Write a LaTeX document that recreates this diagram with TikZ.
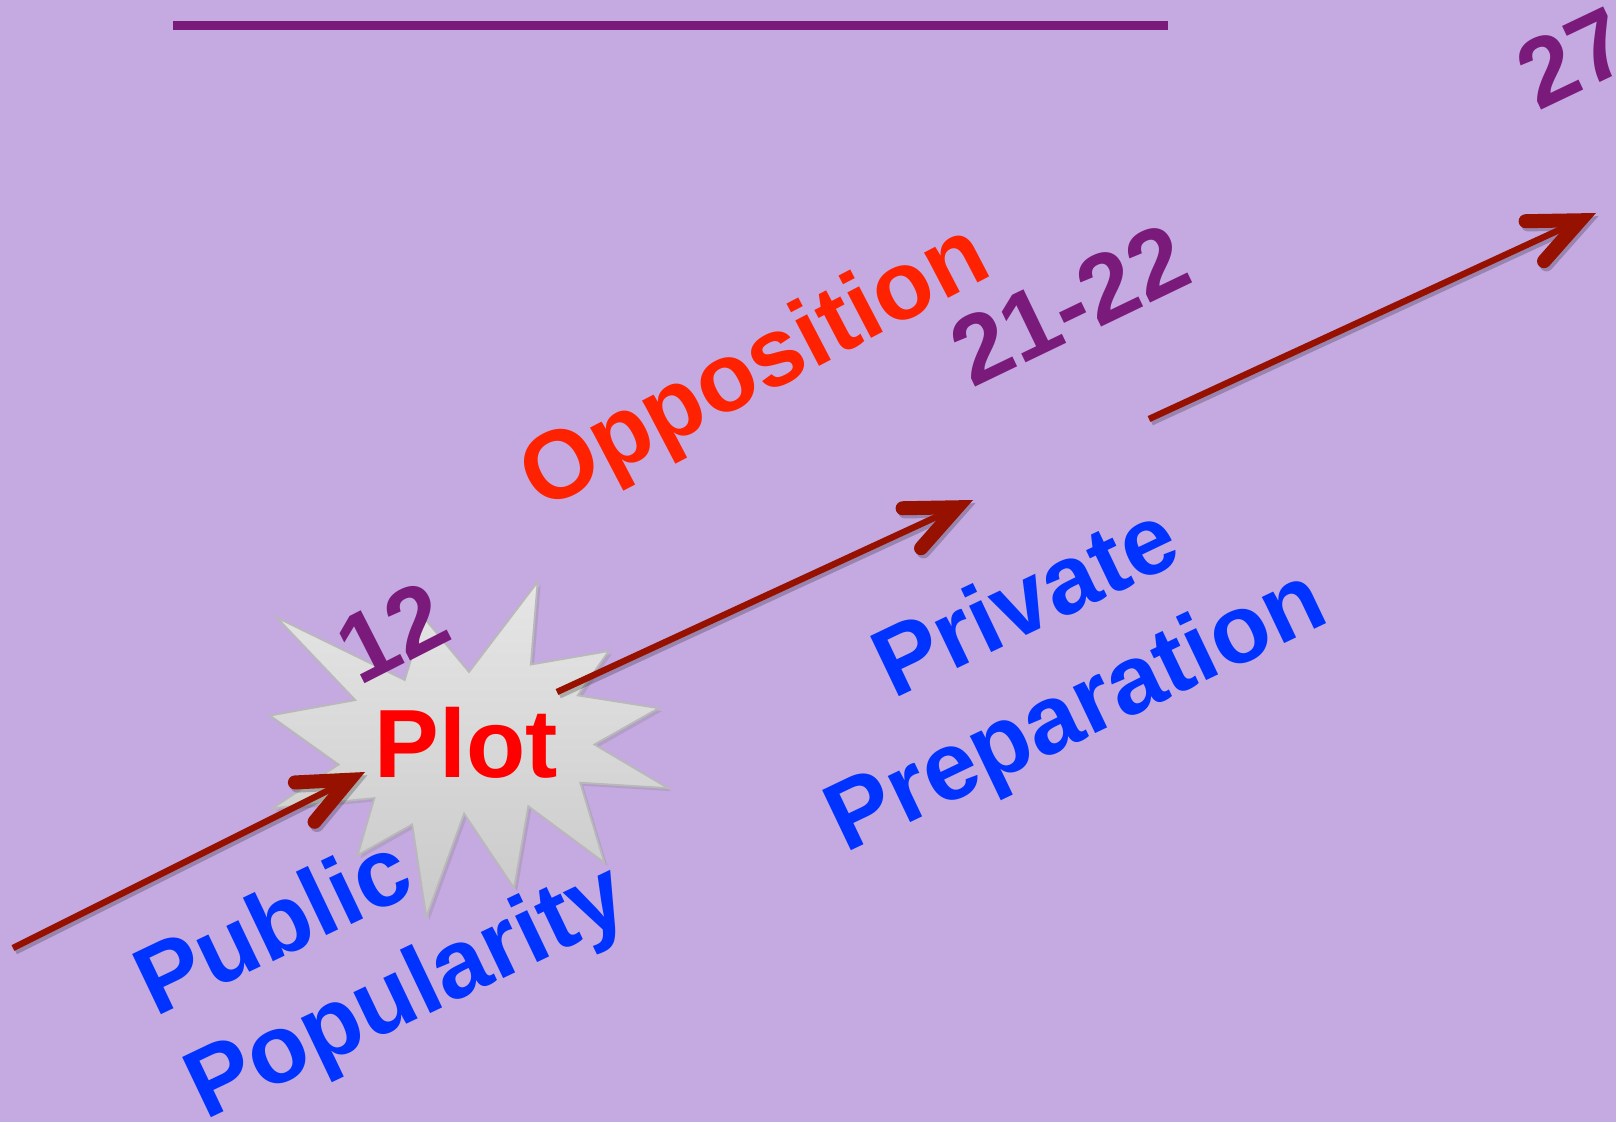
\documentclass[tikz,border=0pt]{standalone}
\usepackage{fontspec}
\setmainfont{Liberation Sans}
\usepackage{xcolor}
\definecolor{lavender}{RGB}{197,169,225}
\definecolor{plum}{RGB}{122,26,122}
\definecolor{maroon}{RGB}{150,17,0}
\definecolor{royal}{RGB}{0,51,255}
\definecolor{flame}{RGB}{255,34,0}
\definecolor{scarlet}{RGB}{255,0,0}
\usepackage{tikz}
\usetikzlibrary{arrows.meta, shadows}

\begin{document}
\begin{tikzpicture}[
    x=0.5pt, y=-0.5pt,
    word/.style={
      anchor=base, inner sep=0pt, rotate=#1,
      font=\bfseries\fontsize{48.5}{58}\selectfont
    },
    word/.default=25.5,
    chapter/.style={word=#1, text=plum},
    chapter/.default=25.5,
    arrow/.style={
      draw=maroon, line width=3.2pt,
      -{Straight Barb[length=25pt, width=22pt, line width=7pt,
                      line cap=round, line join=miter]},
      preaction={draw=black, opacity=0.22, line width=3.4pt,
                 transform canvas={shift={(1.2pt,-1.6pt)}}}
    },
    burst/.style={
      draw=gray!55, line width=0.9pt,
      top color=gray!20, bottom color=gray!42,
      drop shadow={opacity=0.25, shadow xshift=1.5pt, shadow yshift=-1.5pt}
    }
  ]

  % Frame
  \useasboundingbox (0,0) rectangle (1616,1122);
  \clip (0,0) rectangle (1616,1122);
  \fill[lavender] (0,0) rectangle (1616,1122);
  \fill[plum] (173,21) rectangle (1168,30);

  % Explosion
  \draw[burst] (469,672) -- (537.6,582) -- (530.8,664.6) -- (608.7,651.1)
    -- (577.8,695.4) -- (658.7,708.2) -- (594.4,744.5) -- (668,788.1)
    -- (580.2,782.7) -- (604.3,862.6) -- (528.3,806.2) -- (514.1,888.1)
    -- (464.1,813.6) -- (426.3,917) -- (412.2,824.4) -- (357.7,855.2)
    -- (374.4,798.1) -- (272.5,808.2) -- (338.6,764.6) -- (270,715.6)
    -- (355.3,700.1) -- (276.8,617.6) -- (404.7,680) -- (423.9,617.6) -- cycle;

  % Arrow ends
  \coordinate (start1) at (13,948);
  \coordinate (end1)   at (365,772);
  \coordinate (start2) at (557,692);
  \coordinate (end2)   at (973,500);
  \coordinate (start3) at (1149,419);
  \coordinate (end3)   at (1596,213);

  \draw[arrow] (start1) -- (end1);
  \draw[arrow] (start2) -- (end2);
  \draw[arrow] (start3) -- (end3);

  % Labels
  \node[anchor=base, inner sep=0pt, text=scarlet,
        font=\bfseries\fontsize{48.5}{58}\selectfont] (plot) at (466,777) {Plot};
  \node[word=27.6, text=flame] (opposition) at (768,393) {Opposition};
  \node[word, anchor=base west, text=royal] (public)     at (155,1018) {Public};
  \node[word, anchor=base west, text=royal] (popularity) at (205,1121) {Popularity};
  \node[word, text=royal] (private)     at (1039,630) {Private};
  \node[word, text=royal] (preparation) at (1089,737) {Preparation};

  % Chapters
  \node[chapter=27]   (ch12) at (408,662)  {12};
  \node[chapter=25.7] (ch21) at (1084,335) {21-22};
  \node[chapter]      (ch27) at (1587,88)  {27};

\end{tikzpicture}
\end{document}
